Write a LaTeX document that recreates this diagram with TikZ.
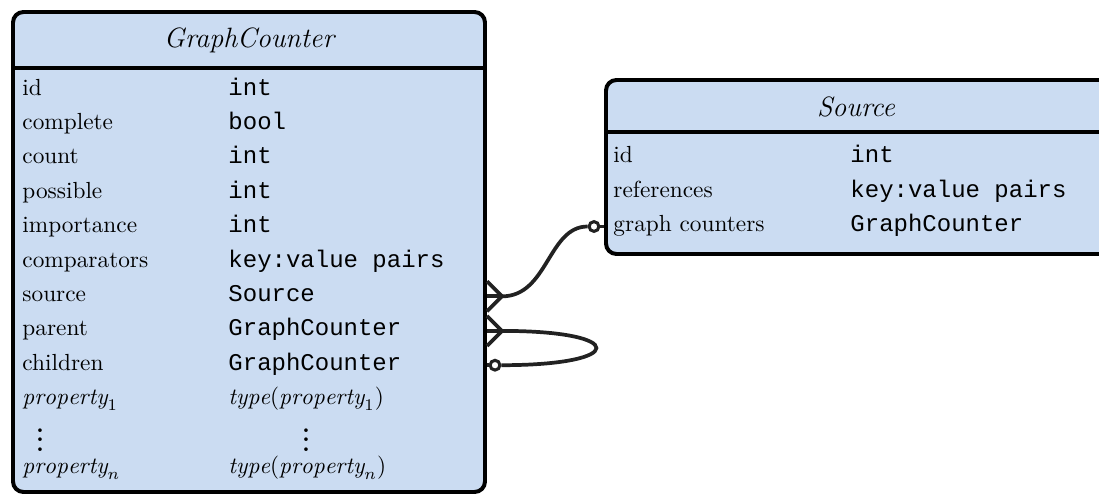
\documentclass[tikz,border=0pt]{standalone}
\usepackage{fontspec}
\setmonofont{Liberation Mono}
\usetikzlibrary{fit}
\definecolor{entityfill}{RGB}{203,220,242}
\definecolor{linkgray}{RGB}{34,34,34}
\begin{document}
\begin{tikzpicture}[
  x=0.4292pt, y=-0.4292pt,
  entity/.style={draw=black, fill=entityfill, line width=1.7pt, rounded corners=4.5pt, inner sep=0pt},
  sepline/.style={draw=black, line width=1.4pt},
  title/.style={font=\large\itshape, inner sep=0pt},
  attr/.style={anchor=mid west, inner sep=0pt, font=\normalsize},
  kind/.style={anchor=mid west, inner sep=0pt, font=\ttfamily\fontsize{10.3pt}{12pt}\selectfont},
  mkind/.style={anchor=mid west, inner sep=0pt},
  ellipsis/.style={inner sep=0pt, font=\bfseries},
  link/.style={draw=linkgray, line width=1.6pt},
  optional/.style={circle, draw=linkgray, fill=white, line width=1.3pt, minimum size=4.2pt, inner sep=0pt},
]
\useasboundingbox (0,0) rectangle (1099,495);

% ---- GraphCounter entity ----
\node[entity, fit={(13,12)(485,492)}] (gc) {};
\coordinate (gcsep) at (0,68);
\draw[sepline] (gc.west |- gcsep) -- (gc.east |- gcsep);
\node[title] (gctitle) at (249,40) {GraphCounter};

\node[attr] (gc-id)   at (22,90)    {id};            \node[kind] (gc-idt)   at (228,90)    {int};
\node[attr] (gc-com)  at (22,124.4) {complete};      \node[kind] (gc-comt)  at (228,124.4) {bool};
\node[attr] (gc-cnt)  at (22,158.8) {count};         \node[kind] (gc-cntt)  at (228,158.8) {int};
\node[attr] (gc-pos)  at (22,193.2) {possible};      \node[kind] (gc-post)  at (228,193.2) {int};
\node[attr] (gc-imp)  at (22,227.6) {importance};    \node[kind] (gc-impt)  at (228,227.6) {int};
\node[attr] (gc-cmp)  at (22,262)   {comparators};   \node[kind] (gc-cmpt)  at (228,262)   {key:value pairs};
\node[attr] (gc-src)  at (22,296.4) {source};        \node[kind] (gc-srct)  at (228,296.4) {Source};
\node[attr] (gc-par)  at (22,330.8) {parent};        \node[kind] (gc-part)  at (228,330.8) {GraphCounter};
\node[attr] (gc-chi)  at (22,365.2) {children};      \node[kind] (gc-chit)  at (228,365.2) {GraphCounter};
\node[attr] (gc-p1)   at (22,399.6) {$\mathit{property}_1$};
\node[mkind] (gc-p1t) at (228,399.6) {$\mathit{type}(\mathit{property}_1)$};
\node[ellipsis] (gc-dots)  at (40,433)  {$\vdots$};
\node[ellipsis] (gc-dotst) at (306,433) {$\vdots$};
\node[attr] (gc-pn)   at (22,468.4) {$\mathit{property}_n$};
\node[mkind] (gc-pnt) at (228,468.4) {$\mathit{type}(\mathit{property}_n)$};

% ---- Source entity (runs past the right edge) ----
\node[entity, fit={(606,80)(1110,254)}] (src) {};
\coordinate (srcsep) at (0,132);
\draw[sepline] (src.west |- srcsep) -- (src.east |- srcsep);
\node[title] (srctitle) at (856,107) {Source};

\node[attr] (src-id)  at (613,157) {id};             \node[kind] (src-idt)  at (850,157) {int};
\node[attr] (src-ref) at (613,192) {references};     \node[kind] (src-reft) at (850,192) {key:value pairs};
\node[attr] (src-gc)  at (613,226.5) {graph counters}; \node[kind] (src-gct) at (850,226.5) {GraphCounter};

% ---- Relationship: source (many) -- graph counters (optional) ----
\coordinate (a-edge) at (gc.east |- gc-src);
\coordinate (a-tip)  at ([xshift=15*0.4292pt]a-edge);
\draw[link] ([yshift=15*0.4292pt]a-edge) -- (a-tip) -- ([yshift=-15*0.4292pt]a-edge);
\draw[link] (a-edge) -- (a-tip);
\node[optional] (a-opt) at (594,226.5) {};
\draw[link] (a-opt.east) -- (src.west |- a-opt);
\draw[link] (a-tip) .. controls (548,296.4) and (548,226.5) .. (a-opt.west);

% ---- Self relationship: parent (many) -- children (optional) ----
\coordinate (b-edge) at (gc.east |- gc-par);
\coordinate (b-tip)  at ([xshift=15*0.4292pt]b-edge);
\draw[link] ([yshift=15*0.4292pt]b-edge) -- (b-tip) -- ([yshift=-15*0.4292pt]b-edge);
\draw[link] (b-edge) -- (b-tip);
\node[optional] (b-opt) at (495,365.2) {};
\draw[link] (gc.east |- b-opt) -- (b-opt.west);
\draw[link] (b-tip) .. controls (628,330.8) and (628,365.2) .. (b-opt.east);
\end{tikzpicture}
\end{document}
